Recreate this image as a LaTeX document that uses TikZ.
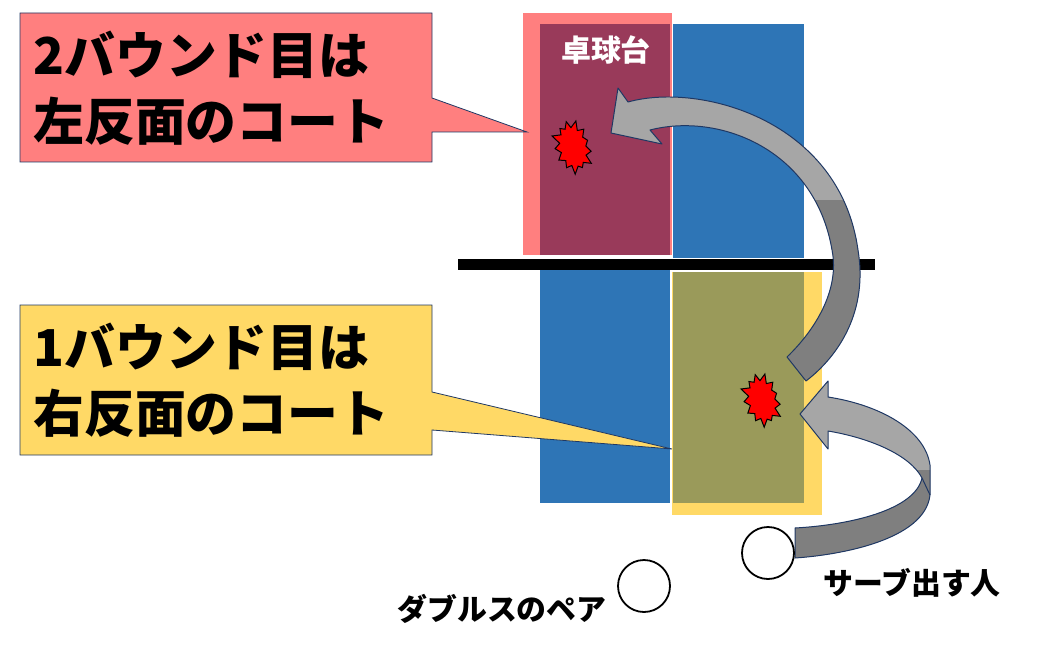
\documentclass[tikz,border=0pt]{standalone}
\usepackage{fontspec}
\setmainfont{Noto Sans CJK JP}
\usetikzlibrary{shapes.symbols}
\definecolor{tblue}{HTML}{2E75B6}
\definecolor{maroon}{HTML}{993A5A}
\definecolor{pinkc}{HTML}{FF7F7F}
\definecolor{yel}{HTML}{FFD966}
\definecolor{olive}{HTML}{9A9A5A}
\definecolor{navy}{HTML}{1F3864}
\definecolor{lg}{HTML}{A6A6A6}
\definecolor{dg}{HTML}{7F7F7F}
\begin{document}
\begin{tikzpicture}[x=1bp,y=-1bp,
  big/.style={font=\fontsize{51}{66}\selectfont\bfseries,align=left,anchor=west},
  lbl/.style={font=\fontsize{30}{32}\selectfont\bfseries},
  burst/.style={starburst,starburst points=13,starburst point height=9bp,fill=red,draw=black,line width=1pt,inner xsep=9bp,inner ysep=14bp},
  pl/.style={draw=black,line width=1.8pt,fill=white}]
\useasboundingbox (0,0) rectangle (1041,655);
% table
\fill[pinkc] (523,13) rectangle (672,255);
\fill[maroon] (540,24) rectangle (670,255);
\fill[tblue] (673,24) rectangle (804,258);
\fill[tblue] (540,270) rectangle (670,503);
\fill[yel] (672,272) rectangle (822,515);
\fill[olive] (673,272) rectangle (804,503);
\fill[black] (458,259) rectangle (875,270);
\node[lbl,text=white] (tbl) at (606,50) {卓球台};
% callouts
\draw[navy,fill=pinkc,line width=0.8pt] (20,13) -- (432,13) -- (432,98) -- (527,132) -- (432,132) -- (432,162) -- (20,162) -- cycle;
\node[big] (c1) at (30,88) {2バウンド目は\\左反面のコート};
\draw[navy,fill=yel,line width=0.8pt] (20,305) -- (432,305) -- (432,392) -- (672,449) -- (432,430) -- (432,455) -- (20,455) -- cycle;
\node[big] (c2) at (30,380) {1バウンド目は\\右反面のコート};
% bursts
\node[burst,rotate=15] (b1) at (573,147) {};
\node[burst,rotate=15] (b2) at (762,400) {};
% arrow 1
\def\arrA{(611,133) -- (618,88) -- (628,102) .. controls (700,82) and (840,120) .. (858,250) .. controls (868,310) and (840,355) .. (806,381) -- (787,357) .. controls (815,330) and (840,290) .. (832,250) .. controls (815,150) and (720,112) .. (650,130) -- (662,144) -- cycle}
\fill[lg] \arrA;
\begin{scope}\clip (0,200) rectangle (1041,655); \fill[dg] \arrA; \end{scope}
\draw[navy,line width=1pt,line join=round] \arrA;
% arrow 2
\def\arrB{(800,414) -- (828,381) -- (828,397) .. controls (880,405) and (925,430) .. (930,465) -- (930,495) .. controls (925,540) and (840,555) .. (795,558) -- (795,528) .. controls (850,525) and (915,510) .. (922,478) .. controls (910,455) and (870,438) .. (828,431) -- (828,449) -- cycle}
\fill[lg] \arrB;
\begin{scope}\clip (0,470) rectangle (1041,655); \fill[dg] \arrB; \end{scope}
\draw[navy,line width=1pt,line join=round] \arrB;
\draw[navy,line width=1pt] (922,478) -- (930,495);
% players
\node[pl,circle,minimum size=52bp] (p1) at (768,553) {};
\node[pl,circle,minimum size=52bp] (p2) at (644,586) {};
\node[lbl] (l1) at (912,583) {サーブ出す人};
\node[lbl] (l2) at (502,609) {ダブルスのペア};
\end{tikzpicture}
\end{document}
